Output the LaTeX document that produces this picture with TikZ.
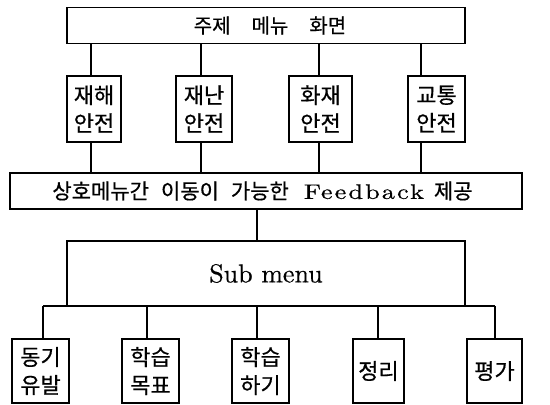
\documentclass[tikz,border=0pt]{standalone}
\usepackage{fontspec}
\newfontfamily\kr[FakeBold=0.6]{Noto Sans CJK KR}
\newfontfamily\widelm[FakeStretch=1.25,LetterSpace=10,FakeBold=0.5]{lmroman10-regular.otf}
\newfontfamily\lmb[FakeBold=0.5]{lmroman10-regular.otf}
\begin{document}
\begin{tikzpicture}[x=1pt,y=-1pt,
  box/.style={draw, line width=1.3pt, inner sep=0pt, outer sep=0pt},
  conn/.style={line width=1.3pt},
  kt/.style={font=\kr\fontsize{22}{28}\selectfont, align=center}]
\useasboundingbox (0,0) rectangle (550,405);

% top menu
\node[box, minimum width=398pt, minimum height=36pt, font=\kr\fontsize{20}{22}\selectfont] (top) at (266,25.5)
  {\hspace{8pt}주제\hspace{21pt}메뉴\hspace{21pt}화면};

% four categories
\node[box, kt, minimum width=54pt, minimum height=66pt] (t1) at (94,109) {재해\\안전};
\node[box, kt, minimum width=56pt, minimum height=66pt] (t2) at (204,109) {재난\\안전};
\node[box, kt, minimum width=63pt, minimum height=66pt] (t3) at (320.5,109) {화재\\안전};
\node[box, kt, minimum width=57pt, minimum height=66pt] (t4) at (436.5,109) {교통\\안전};

% feedback bar
\node[box, minimum width=512pt, minimum height=36pt, font=\fontsize{21}{24}\selectfont] (fb) at (266,191)
  {\hspace{-7pt}{\kr 상호메뉴간\hspace{12pt}이동이\hspace{12pt}가능한}\hspace{15pt}{\widelm Feedback}\hspace{10pt}{\kr 제공}};

% sub menu
\node[box, minimum width=398pt, minimum height=65pt, font=\lmb\fontsize{26}{28}\selectfont] (sub) at (266,273.5) {Sub menu};

% bottom items
\node[box, kt, minimum width=57pt, minimum height=64pt] (b1) at (40.5,371) {동기\\유발};
\node[box, kt, minimum width=57pt, minimum height=64pt] (b2) at (150.5,371) {학습\\목표};
\node[box, kt, minimum width=57pt, minimum height=64pt] (b3) at (260.5,371) {학습\\하기};
\node[box, kt, minimum width=51pt, minimum height=64pt] (b4) at (378.5,371) {정리};
\node[box, kt, minimum width=55pt, minimum height=64pt] (b5) at (494.5,371) {평가};

% connector x positions
\coordinate (u1) at (91,0);
\coordinate (u2) at (201,0);
\coordinate (u3) at (319,0);
\coordinate (u4) at (421,0);
\coordinate (m) at (257,0);
\coordinate (d1) at (43,0);
\coordinate (d2) at (147,0);
\coordinate (d3) at (257,0);
\coordinate (d4) at (378,0);
\coordinate (d5) at (495,0);

% top menu to categories
\draw[conn] (u1 |- top.south) -- (u1 |- t1.north);
\draw[conn] (u2 |- top.south) -- (u2 |- t2.north);
\draw[conn] (u3 |- top.south) -- (u3 |- t3.north);
\draw[conn] (u4 |- top.south) -- (u4 |- t4.north);

% categories to feedback
\draw[conn] (u1 |- t1.south) -- (u1 |- fb.north);
\draw[conn] (u2 |- t2.south) -- (u2 |- fb.north);
\draw[conn] (u3 |- t3.south) -- (u3 |- fb.north);
\draw[conn] (u4 |- t4.south) -- (u4 |- fb.north);

% feedback to sub menu
\draw[conn] (m |- fb.south) -- (m |- sub.north);

% bus and branches
\draw[conn] (d1 |- sub.south) -- (d5 |- sub.south);
\draw[conn] (d1 |- sub.south) -- (d1 |- b1.north);
\draw[conn] (d2 |- sub.south) -- (d2 |- b2.north);
\draw[conn] (d3 |- sub.south) -- (d3 |- b3.north);
\draw[conn] (d4 |- sub.south) -- (d4 |- b4.north);
\draw[conn] (d5 |- sub.south) -- (d5 |- b5.north);
\end{tikzpicture}
\end{document}
